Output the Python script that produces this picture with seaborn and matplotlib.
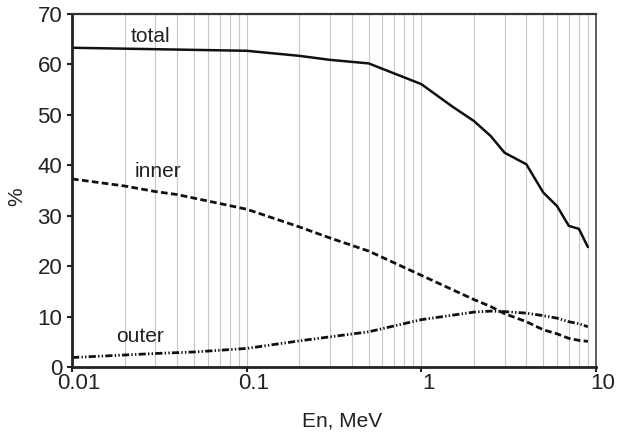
import pandas as pd
import seaborn as sns
import matplotlib.pyplot as plt
import matplotlib.transforms as mtransforms
from matplotlib.ticker import LogLocator, FixedLocator, NullFormatter

# total
total_en = [0.01, 0.1, 0.2, 0.3, 0.5, 1, 1.5, 2, 2.5, 3, 4, 5, 6, 7, 8, 9]
total_pct = [63.3, 62.7, 61.7, 60.9, 60.2, 56.1, 51.7, 48.8, 45.8, 42.5, 40.2, 34.6, 31.9, 28.0, 27.4, 23.8]

# inner
inner_en = [0.01, 0.02, 0.03, 0.04, 0.1, 0.2, 0.3, 0.5, 1, 2, 2.5, 3, 4, 5, 6, 7, 8, 9]
inner_pct = [37.3, 35.9, 34.8, 34.2, 31.3, 27.8, 25.6, 23.0, 18.2, 13.4, 12.0, 10.6, 9.0, 7.4, 6.6, 5.7, 5.3, 5.1]

# outer
outer_en = [0.01, 0.02, 0.03, 0.05, 0.1, 0.2, 0.5, 1, 2, 2.5, 3, 4, 5, 6, 7, 8, 9]
outer_pct = [1.9, 2.4, 2.7, 3.0, 3.7, 5.2, 7.0, 9.4, 10.9, 11.1, 11.0, 10.7, 10.2, 9.7, 9.0, 8.6, 8.0]

x_ticks = [0.01, 0.1, 1, 10]
x_ticklabels = ["0.01", "0.1", "1", "10"]

sns.set_style("white")
plt.rcParams['font.family'] = ['Liberation Sans', 'DejaVu Sans']
plt.rcParams['text.color'] = '#222222'
plt.rcParams['axes.labelcolor'] = '#222222'
plt.rcParams['xtick.color'] = '#222222'
plt.rcParams['ytick.color'] = '#222222'

fig = plt.figure(figsize=(6.17, 4.36), dpi=100)
ax = fig.add_axes([0.1167, 0.158, 0.849, 0.81])

sns.lineplot(x=total_en, y=total_pct, ax=ax, color="#111111", lw=1.8)
sns.lineplot(x=inner_en, y=inner_pct, ax=ax, color="#111111", lw=2,
             linestyle=(0, (2.4, 1.2)))
sns.lineplot(x=outer_en, y=outer_pct, ax=ax, color="#111111", lw=2,
             linestyle=(0, (2.6, 0.8, 0.5, 0.8, 0.5, 0.8)))

ax.set_xscale("log")
ax.set_xlim(0.01, 10)
ax.set_ylim(0, 70)
ax.set_yticks(range(0, 71, 10))
ax.xaxis.set_major_locator(FixedLocator(x_ticks))
ax.set_xticklabels(x_ticklabels)
ax.xaxis.set_minor_locator(LogLocator(base=10, subs=range(2, 10)))
ax.xaxis.set_minor_formatter(NullFormatter())
ax.grid(True, which="both", axis="x", color="#c8c8c8", lw=0.8)
ax.grid(False, axis="y")
ax.tick_params(axis="both", which="major", labelsize=16, length=3.5, width=1.5, direction="out")
ax.tick_params(axis="x", which="major", pad=1)
ax.tick_params(axis="y", which="major", pad=3.5)
ax.tick_params(axis="x", which="minor", length=0)
ax.tick_params(left=True, bottom=True)

# x tick labels sit a bit to the right of their ticks in the reference
shift = mtransforms.ScaledTranslation(7 / 100, 0, fig.dpi_scale_trans)
for lbl in ax.get_xticklabels():
    lbl.set_transform(lbl.get_transform() + shift)

for side in ["left", "bottom"]:
    ax.spines[side].set_linewidth(2)
    ax.spines[side].set_color("#222222")
ax.spines["top"].set_linewidth(1.6)
ax.spines["top"].set_color("#333333")
ax.spines["right"].set_linewidth(1.2)
ax.spines["right"].set_color("#444444")

ax.text(0.0281, 64.4, "total", fontsize=15, ha="center", va="baseline")
ax.text(0.031, 37.7, "inner", fontsize=15, ha="center", va="baseline")
ax.text(0.0245, 5.0, "outer", fontsize=15, ha="center", va="baseline")

ax.set_xlabel("En, MeV", fontsize=15, va="center")
ax.xaxis.set_label_coords(0.515, -0.152)
ax.set_ylabel("%", fontsize=15, va="center")
ax.yaxis.set_label_coords(-0.106, 0.482)

plt.savefig("out.png", dpi=100)
